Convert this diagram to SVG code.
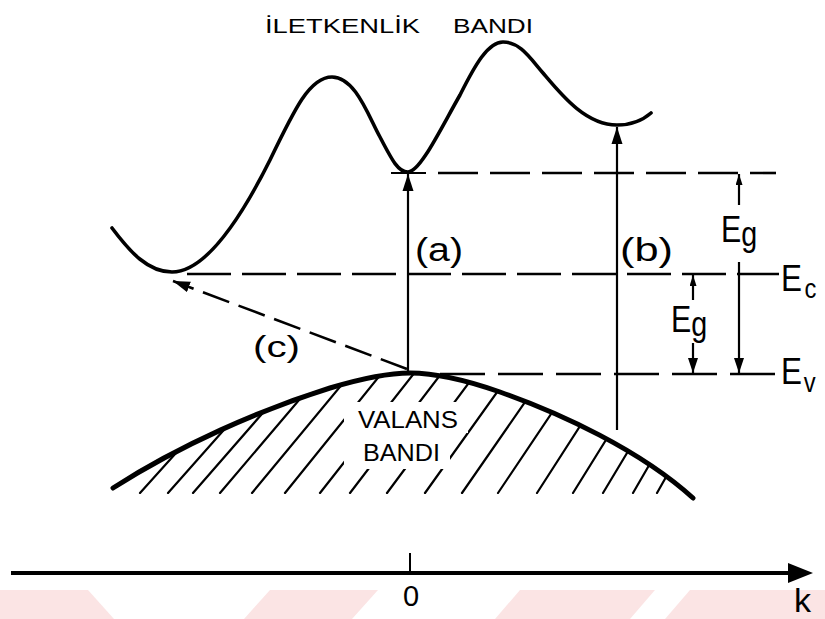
<svg xmlns="http://www.w3.org/2000/svg" width="825" height="619" viewBox="0 0 825 619">
<style>
.curve{fill:none;stroke:#000;stroke-linecap:round;stroke-linejoin:round}
.dash{fill:none;stroke:#000;stroke-width:2.6}
.solid{fill:none;stroke:#000;stroke-width:2.2}
.hatch{stroke:#000;stroke-width:2.2;stroke-linecap:round}
.lbl{font-family:"Liberation Sans",Arial,sans-serif;fill:#000}
.wm{fill:#fbe4e4}
</style>
<defs>
<marker id="arrL" markerUnits="userSpaceOnUse" markerWidth="18" markerHeight="12" refX="17" refY="6" orient="auto"><path d="M0,0.5 L17,6 L0,11.5 z" fill="#000"/></marker>
<marker id="arrM" markerUnits="userSpaceOnUse" markerWidth="16" markerHeight="11" refX="15" refY="5" orient="auto"><path d="M0,0 L15,5 L0,10 z" fill="#000"/></marker>
<marker id="arrS" markerUnits="userSpaceOnUse" markerWidth="12" markerHeight="8" refX="11" refY="3.5" orient="auto"><path d="M0,0 L11,3.5 L0,7 z" fill="#000"/></marker>
<clipPath id="vbClip"><path d="M113,488 C180,445 260,410 330,388 C370,376 395,373 410,373 C430,373 460,378 500,392 C560,413 640,450 693,498 L693,494 L113,494 Z"/></clipPath>
<mask id="txtMask"><rect x="0" y="0" width="825" height="619" fill="#fff"/><rect x="344" y="402" width="124" height="31" fill="#000"/><rect x="344" y="432" width="106" height="37" fill="#000"/></mask>
</defs>

<g id="watermark">
<polygon class="wm" points="0,590 88,590 114,619 0,619"/>
<polygon class="wm" points="270,590 378,590 352,619 244,619"/>
<polygon class="wm" points="520,590 655,590 630,619 495,619"/>
<polygon class="wm" points="690,590 825,590 825,619 665,619"/>
</g>

<g id="title">
<text class="lbl" x="265" y="33" font-size="21" textLength="155" lengthAdjust="spacingAndGlyphs">İLETKENLİK</text>
<text class="lbl" x="453" y="33" font-size="21" textLength="80" lengthAdjust="spacingAndGlyphs">BANDI</text>
</g>

<g id="conduction-band">
<path class="curve" stroke-width="3.6" d="M112,228 C130,252 148,272 172,272 C205,272 240,220 270,160 C295,108 310,77 332,77 C355,77 368,115 380,137 C392,160 398,172 408,172 C420,172 440,130 460,95 C475,65 488,42 503,42 C520,42 530,58 543,73 C560,93 585,125 617,125 C632,125 643,120 651,113"/>
</g>

<g id="valence-band">
<g clip-path="url(#vbClip)"><g mask="url(#txtMask)">
<line class="hatch" x1="140" y1="493" x2="266" y2="353"/>
<line class="hatch" x1="168" y1="493" x2="292" y2="353"/>
<line class="hatch" x1="193" y1="493" x2="315" y2="353"/>
<line class="hatch" x1="220" y1="493" x2="339" y2="353"/>
<line class="hatch" x1="252" y1="493" x2="368" y2="353"/>
<line class="hatch" x1="285" y1="493" x2="398" y2="353"/>
<line class="hatch" x1="320" y1="493" x2="430" y2="353"/>
<line class="hatch" x1="350" y1="493" x2="457" y2="353"/>
<line class="hatch" x1="387" y1="493" x2="491" y2="353"/>
<line class="hatch" x1="425" y1="493" x2="525" y2="353"/>
<line class="hatch" x1="462" y1="493" x2="559" y2="353"/>
<line class="hatch" x1="498" y1="493" x2="592" y2="353"/>
<line class="hatch" x1="537" y1="493" x2="627" y2="353"/>
<line class="hatch" x1="573" y1="493" x2="660" y2="353"/>
<line class="hatch" x1="603" y1="493" x2="687" y2="353"/>
<line class="hatch" x1="633" y1="493" x2="714" y2="353"/>
<line class="hatch" x1="657" y1="493" x2="736" y2="353"/>
</g></g>
<path class="curve" stroke-width="5" d="M113,488 C180,445 260,410 330,388 C370,376 395,373 410,373 C430,373 460,378 500,392 C560,413 640,450 693,498"/>
<text class="lbl" x="358" y="428" font-size="24" textLength="100" lengthAdjust="spacingAndGlyphs">VALANS</text>
<text class="lbl" x="363" y="461" font-size="24" textLength="77" lengthAdjust="spacingAndGlyphs">BANDI</text>
</g>

<g id="levels">
<line class="solid" x1="391" y1="173" x2="426" y2="173"/>
<line class="dash" x1="438" y1="173" x2="776" y2="173" stroke-dasharray="40 12"/>
<line class="dash" x1="187" y1="274" x2="779" y2="274" stroke-dasharray="44 11"/>
<line class="dash" x1="440" y1="374" x2="779" y2="374" stroke-dasharray="45 13"/>
</g>

<g id="transitions">
<line class="solid" x1="408" y1="372" x2="408" y2="174" marker-end="url(#arrL)"/>
<line class="solid" x1="617" y1="430" x2="617" y2="127" stroke-width="2.6" marker-end="url(#arrL)"/>
<line class="dash" x1="407" y1="369" x2="173" y2="281" stroke-dasharray="28 10" marker-end="url(#arrL)"/>
<text class="lbl" x="415" y="261" font-size="33" textLength="48" lengthAdjust="spacingAndGlyphs">(a)</text>
<text class="lbl" x="620" y="261" font-size="33" textLength="53" lengthAdjust="spacingAndGlyphs">(b)</text>
<text class="lbl" x="253" y="357" font-size="30" textLength="47" lengthAdjust="spacingAndGlyphs">(c)</text>
</g>

<g id="energy-gaps">
<line class="solid" x1="739" y1="205" x2="739" y2="174" marker-end="url(#arrS)"/>
<line class="solid" x1="739" y1="262" x2="739" y2="373" marker-end="url(#arrM)"/>
<text class="lbl" font-size="37" transform="translate(721,242) scale(0.82,1)">E<tspan font-size="35" dy="4">g</tspan></text>
<line class="solid" x1="693" y1="300" x2="693" y2="275" marker-end="url(#arrS)"/>
<line class="solid" x1="693" y1="343" x2="693" y2="373" marker-end="url(#arrM)"/>
<text class="lbl" font-size="37" transform="translate(671,332) scale(0.82,1)">E<tspan font-size="35" dy="4">g</tspan></text>
<text class="lbl" font-size="37" transform="translate(781,291) scale(0.85,1)">E<tspan font-size="28" dx="3" dy="7">c</tspan></text>
<text class="lbl" font-size="37" transform="translate(781,384) scale(0.85,1)">E<tspan font-size="28" dx="2" dy="8">v</tspan></text>
</g>

<g id="k-axis">
<line x1="11" y1="573" x2="792" y2="573" stroke="#000" stroke-width="4"/>
<polygon points="788,563 813,573 788,583" fill="#000"/>
<line x1="410" y1="553" x2="410" y2="573" stroke="#000" stroke-width="2"/>
<text class="lbl" x="411" y="606" font-size="29" text-anchor="middle">0</text>
<text class="lbl" x="794" y="612" font-size="34">k</text>
</g>
</svg>
